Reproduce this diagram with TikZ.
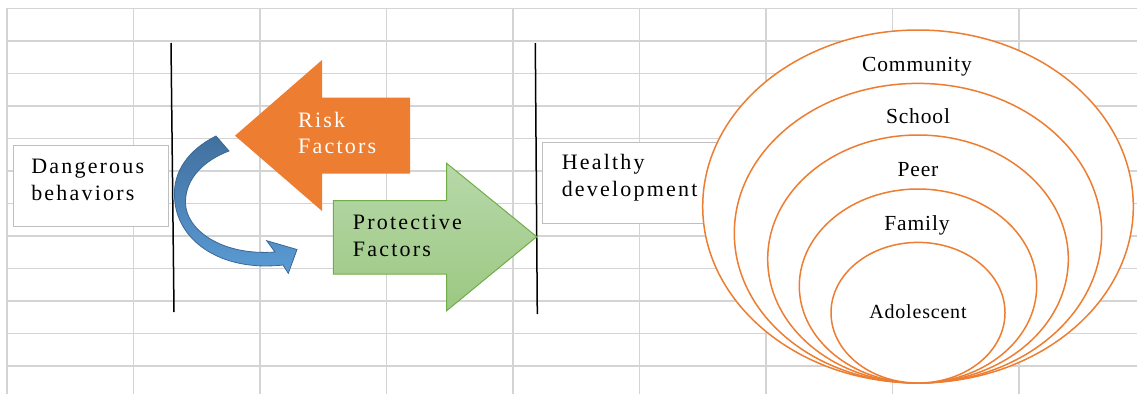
\documentclass[tikz,border=0pt]{standalone}
\usepackage{fontspec}
\setmainfont{Liberation Serif}
\newfontfamily\widefont{Liberation Serif}[LetterSpace=10]
\newfontfamily\ringfont{Liberation Serif}[LetterSpace=4]
\usetikzlibrary{shapes.geometric}
\definecolor{gridgray}{HTML}{D4D4D4}
\definecolor{boxgray}{HTML}{BFBFBF}
\definecolor{riskorange}{HTML}{ED7D31}
\definecolor{ringorange}{HTML}{ED7D31}
\definecolor{protgreenA}{HTML}{B7D8A9}
\definecolor{protgreenB}{HTML}{9CC882}
\definecolor{protborder}{HTML}{70AD47}
\definecolor{curveblueA}{HTML}{41709E}
\definecolor{curveblueB}{HTML}{5B9BD5}
\definecolor{curveborder}{HTML}{3A6894}
\begin{document}
\begin{tikzpicture}[x=1pt, y=-1pt,
	box/.style={draw=boxgray, line width=1.2pt, fill=white, rectangle, align=left,
		anchor=north west, inner ysep=0pt, font=\widefont\fontsize{22}{26.7}\selectfont},
	ring/.style={ellipse, draw=ringorange, line width=1.5pt, fill=white, inner sep=0pt},
	ringlabel/.style={anchor=base, font=\ringfont\fontsize{21.5}{26}\selectfont},
	arrowtext/.style={anchor=north west, inner sep=0pt, align=left,
		font=\widefont\fontsize{22}{26.7}\selectfont}]
	\useasboundingbox (0,0) rectangle (1137,394);
	%grid
	\foreach \i in {0,...,11}
	\draw[gridgray, line width=1.5pt] (7,8.3+32.5*\i) -- (1137,8.3+32.5*\i);
	\foreach \j in {0,...,8}
	\draw[gridgray, line width=1.5pt] (7+126.5*\j,8.3) -- (7+126.5*\j,394);
	%boxes
	\node[box, minimum width=155pt, minimum height=81pt, text width=119pt, inner xsep=18pt,
	text depth=40pt] (danger) at (12.7,145) {Dangerous\\behaviors};
	\node[box, minimum width=184pt, minimum height=81pt, text width=145pt, inner xsep=19.5pt,
	text depth=41.5pt] (healthy) at (541.7,141.7) {Healthy\\development};
	%barriers
	\draw[line width=1.5pt] (171,43) -- (174,312);
	\draw[line width=1.5pt] (535.3,43) -- (537.3,314);
	%arrows
	\fill[riskorange] (410,97.7) -- (322,97.7) -- (322,60) -- (235,135.7)
	-- (322,211) -- (322,173.7) -- (410,173.7) -- cycle;
	\node[arrowtext, text=white] (risk) at (298,111.7) {Risk\\Factors};
	\draw[protborder, line width=1pt, top color=protgreenA, bottom color=protgreenB]
	(333.3,200.7) -- (446.7,200.7) -- (446.7,163.3) -- (536.7,236.7)
	-- (446.7,310.7) -- (446.7,274) -- (333.3,274) -- cycle;
	\node[arrowtext] (protect) at (352.7,215) {Protective\\Factors};
	\draw[curveborder, line width=0.8pt, top color=curveblueA, bottom color=curveblueB]
	(216,136) .. controls (188,150) and (173,172) .. (174.5,197)
	.. controls (176,240) and (220,272) .. (283,265)
	-- (288.3,273.3) -- (297,249.5) -- (266.7,240.7) -- (275,252)
	.. controls (222,256) and (186,230) .. (185.5,203)
	.. controls (185,178) and (205,160) .. (229,151) -- cycle;
	%rings
	\foreach \name/\w/\h/\cy in {
		community/430.6/353/206.5,
		school/367.4/299.6/233.2,
		peer/300.6/248/259,
		family/237.4/194/286,
		adolescent/174/140.6/312.7
	}
	\node[ring, minimum width=\w pt, minimum height=\h pt] (\name) at (918,\cy) {};
	%labels
	\node[ringlabel] (communitylabel) at (917,71.7) {Community};
	\node[ringlabel] (schoollabel) at (918,123.3) {School};
	\node[ringlabel] (peerlabel) at (918,176) {Peer};
	\node[ringlabel] (familylabel) at (917,230) {Family};
	\node[ringlabel, font=\ringfont\fontsize{20}{24}\selectfont] (adolescentlabel) at (918,318.3) {Adolescent};
\end{tikzpicture}
\end{document}
